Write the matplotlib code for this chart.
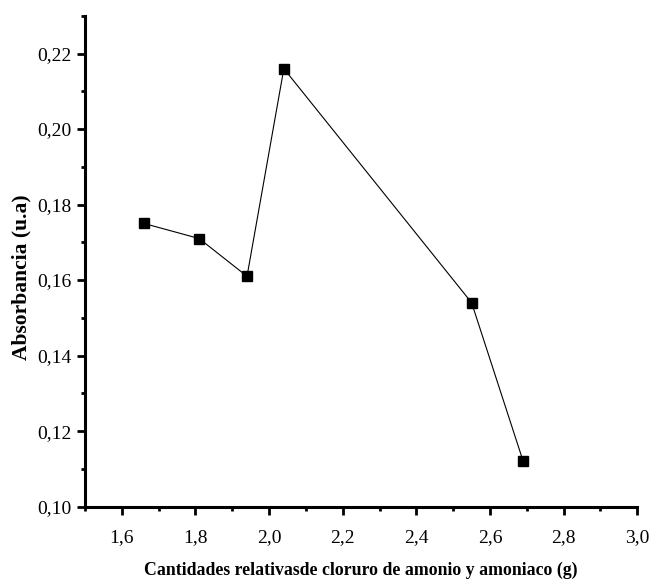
import numpy as np
import matplotlib.pyplot as plt
from matplotlib.ticker import MultipleLocator, FuncFormatter

# datos
cantidad = [1.66, 1.81, 1.94, 2.04, 2.55, 2.69]
absorbancia = [0.175, 0.171, 0.161, 0.216, 0.154, 0.112]

plt.rcParams['font.family'] = 'Liberation Serif'

fig = plt.figure(figsize=(6.49, 5.85), dpi=100)
ax = fig.add_axes([0.131, 0.134, 0.851, 0.839])

ax.plot(cantidad, absorbancia, color='black', linewidth=0.8,
        marker='s', markersize=6.5, markerfacecolor='black', markeredgecolor='black')

ax.set_xlim(1.5, 3.0)
ax.set_ylim(0.10, 0.230)

ax.xaxis.set_major_locator(MultipleLocator(0.2))
ax.xaxis.set_minor_locator(MultipleLocator(0.1))
ax.yaxis.set_major_locator(MultipleLocator(0.02))
ax.yaxis.set_minor_locator(MultipleLocator(0.01))

coma1 = FuncFormatter(lambda v, p: f"{v:.1f}".replace('.', ','))
coma2 = FuncFormatter(lambda v, p: f"{v:.2f}".replace('.', ','))
ax.xaxis.set_major_formatter(coma1)
ax.yaxis.set_major_formatter(coma2)

# quitar los ticks de 1,5 que no aparecen
ax.set_xticks([1.6, 1.8, 2.0, 2.2, 2.4, 2.6, 2.8, 3.0])

for s in ['top', 'right']:
    ax.spines[s].set_visible(False)
for s in ['left', 'bottom']:
    ax.spines[s].set_linewidth(2.2)

ax.tick_params(which='major', direction='out', length=6, width=2, labelsize=14)
ax.tick_params(axis='x', which='major', pad=10)
ax.tick_params(axis='y', which='major', pad=4)
ax.tick_params(which='minor', direction='out', length=3, width=2)

ax.set_xlabel('Cantidades relativasde cloruro de amonio y amoniaco (g)',
              fontsize=12.8, fontweight='bold')
ax.set_ylabel('Absorbancia (u.a)', fontsize=15.5, fontweight='bold')
ax.xaxis.set_label_coords(0.5, -0.112)
ax.yaxis.set_label_coords(-0.097, 0.468)

fig.savefig('out.png', dpi=100)
